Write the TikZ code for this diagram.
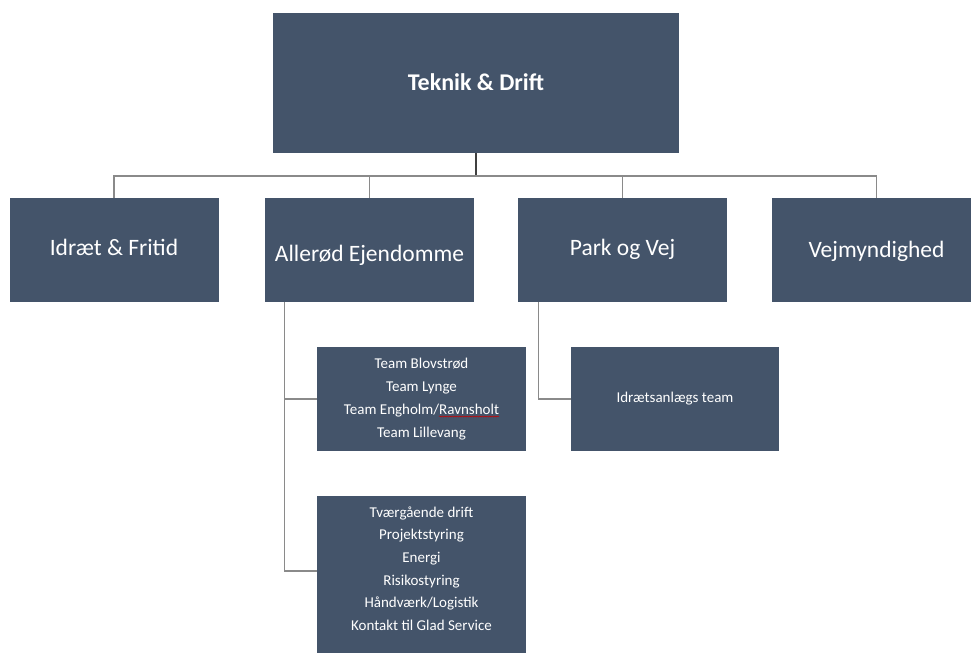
\documentclass[tikz,border=0pt]{standalone}
\usepackage{fontspec}
\setmainfont{Carlito}
\usetikzlibrary{positioning, decorations.pathmorphing}

\definecolor{unitblue}{HTML}{44546A}
\definecolor{linegray}{HTML}{8A8A8A}

\begin{document}
\begin{tikzpicture}[x=1pt, y=-1pt,
    unit/.style={rectangle, fill=unitblue, text=white, inner sep=0pt, minimum width=209pt, minimum height=104pt, text height=15pt, text depth=5pt, font=\fontsize{23.5}{27}\selectfont},
    head/.style={unit, minimum width=406pt, minimum height=140pt, text height=19pt, text depth=4pt, font=\fontsize{24}{28}\selectfont\bfseries},
    sub/.style={unit, align=center, text height=, text depth=, font=\fontsize{15}{23}\selectfont},
    sublabel/.style={text=white, align=center, font=\fontsize{15}{22.6}\selectfont},
    line/.style={draw=linegray, line width=1.1pt}]

    \useasboundingbox (0,0) rectangle (971,657);

    \node (top) [head] at (476,83) {Teknik \& Drift};

    % Level 1
    \node (idraet) [unit] at (114,250) {Idræt \& Fritid};
    \node (ejendom) [unit, text height=27pt] at (369.5,250) {Allerød Ejendomme};
    \node (parkvej) [unit] at (622.5,250) {Park og Vej};
    \node (vejmynd) [unit, text height=19pt] at (876.5,250) {Vejmyndighed};

    % Level 2
    \node (teams) [sub] at (421.5,399) {Team Blovstrød\\Team Lynge\\Team Engholm/Ravnsholt\\Team Lillevang};
    \node (anlaeg) [sub, minimum width=208pt, text depth=4pt] at (675,399) {Idrætsanlægs team};
    \node (drift) [unit, minimum height=157pt, label={[sublabel, yshift=6pt]center:{Tværgående drift\\Projektstyring\\Energi\\Risikostyring\\Håndværk/Logistik\\Kontakt til Glad Service}}] at (421.5,574.5) {};

    \coordinate (bus) at (476,176);

    % Connections
    \draw[draw=black!75, line width=1.4pt] (top.south) -- (bus);
    \draw[line] (idraet.north) -- (idraet.north |- bus) -- (vejmynd.north |- bus) -- (vejmynd.north);
    \draw[line] (ejendom.north) -- (ejendom.north |- bus);
    \draw[line] (parkvej.north) -- (parkvej.north |- bus);

    \draw[line] ([xshift=20pt]ejendom.south west) |- (teams.west);
    \draw[line] ([xshift=20pt]ejendom.south west) |- ([yshift=3.5pt]drift.west);
    \draw[line] ([xshift=21pt]parkvej.south west) |- (anlaeg.west);

    % spelling mark
    \draw[red!80!black, line width=0.5pt, decorate, decoration={snake, amplitude=0.6pt, segment length=2.5pt}] (439,416.5) -- (499,416.5);

\end{tikzpicture}
\end{document}
